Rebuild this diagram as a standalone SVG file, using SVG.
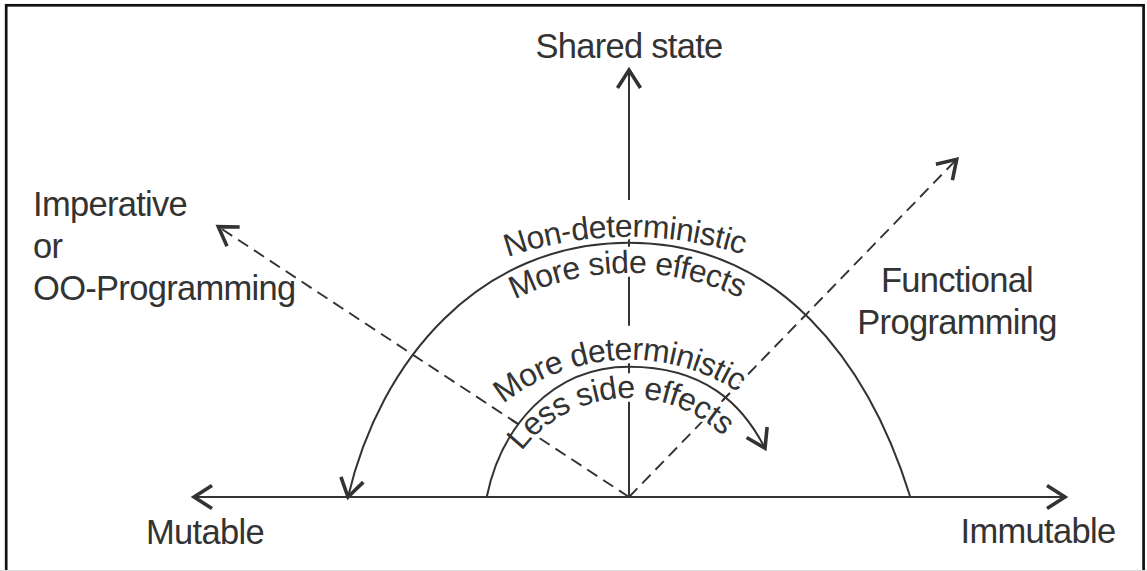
<svg xmlns="http://www.w3.org/2000/svg" width="1147" height="571" viewBox="0 0 1147 571">
  <style>
    .ln { fill: none; stroke: #333; stroke-width: 2; }
    .dash { fill: none; stroke: #333; stroke-width: 1.9; stroke-dasharray: 12 7; }
    .lbl { font-family: "Liberation Sans", Arial, sans-serif; font-size: 34.5px; letter-spacing: -0.7px; fill: #333; }
    .arc { font-family: "Liberation Sans", Arial, sans-serif; font-size: 32px; letter-spacing: -0.6px; fill: #333; stroke: #fff; stroke-width: 6; stroke-linejoin: round; paint-order: stroke; }
  </style>
  <defs>
    <marker id="arr" markerUnits="userSpaceOnUse" viewBox="-25 -15 30 30" refX="0" refY="0" markerWidth="30" markerHeight="30" orient="auto-start-reverse" overflow="visible">
      <path d="M -18 -11.5 L 0 0 L -18 11.5" fill="none" stroke="#333" stroke-width="3.6" stroke-dasharray="none" stroke-linejoin="miter"/>
    </marker>
    <path id="tp1" d="M 341.7 370.9 A 375 375 0 0 1 916.3 370.9"/>
    <path id="tp2" d="M 429.8 365.9 A 260 260 0 0 1 828.2 365.9"/>
    <path id="tp3" d="M 441 491.6 A 200 200 0 0 1 817 491.6"/>
    <path id="tp4" d="M 496.05 509.6 A 135 135 0 0 1 761.95 509.6"/>
  </defs>

  <rect x="6.2" y="5.3" width="1137.4" height="590" fill="none" stroke="#111" stroke-width="2.7"/>
  <line x1="0" y1="570.5" x2="1147" y2="570.5" stroke="#ddd" stroke-width="1"/>

  <g id="connectors">
    <line class="ln" x1="194" y1="497" x2="1065" y2="497" marker-start="url(#arr)" marker-end="url(#arr)"/>
    <line class="ln" x1="629" y1="200" x2="629" y2="70" marker-end="url(#arr)"/>
    <line class="ln" x1="629" y1="238.7" x2="629" y2="246.7"/>
    <line class="ln" x1="629" y1="276.7" x2="629" y2="325.7"/>
    <line class="ln" x1="629" y1="363.3" x2="629" y2="373.3"/>
    <line class="ln" x1="629" y1="401.7" x2="629" y2="497"/>
    <path class="dash" d="M 629 497 L 218.3 226.7" marker-end="url(#arr)"/>
    <path class="dash" d="M 629 497 L 956.7 159.3" marker-end="url(#arr)"/>
  </g>

  <g id="arc-labels">
    <text class="arc"><textPath href="#tp1" startOffset="323" text-anchor="middle">Non-deterministic</textPath></text>
    <text class="arc"><textPath href="#tp2" startOffset="225" text-anchor="middle">More side effects</textPath></text>
    <text class="arc"><textPath href="#tp3" startOffset="234" text-anchor="middle">More deterministic</textPath></text>
    <text class="arc"><textPath href="#tp4" startOffset="178" text-anchor="middle">Less side effects</textPath></text>
  </g>

  <g id="arcs">
    <path class="ln" d="M 910 496 C 868.3 362.4, 779 242.7, 629 242.7 C 479 242.7, 380 360.6, 348 497" marker-end="url(#arr)"/>
    <path class="ln" d="M 486.7 497 C 500.7 428.4, 551 366.7, 629 366.7 C 704 366.7, 742.5 403.8, 765 448.3" marker-end="url(#arr)"/>
    <line class="ln" x1="518.8" y1="424.5" x2="511.3" y2="419.6" stroke-width="1.9"/>
    <line class="ln" x1="723" y1="400" x2="729.2" y2="393.6" stroke-width="1.9"/>
  </g>

  <g id="shared-state"><text class="lbl" x="629" y="58" text-anchor="middle">Shared state</text></g>
  <g id="imperative">
    <text class="lbl" x="33" y="216">Imperative</text>
    <text class="lbl" x="33" y="258">or</text>
    <text class="lbl" x="33" y="300">OO-Programming</text>
  </g>
  <g id="functional">
    <text class="lbl" x="957" y="292" text-anchor="middle">Functional</text>
    <text class="lbl" x="957" y="334" text-anchor="middle">Programming</text>
  </g>
  <g id="mutable"><text class="lbl" x="205" y="544" text-anchor="middle">Mutable</text></g>
  <g id="immutable"><text class="lbl" x="1038" y="543" text-anchor="middle">Immutable</text></g>
</svg>
